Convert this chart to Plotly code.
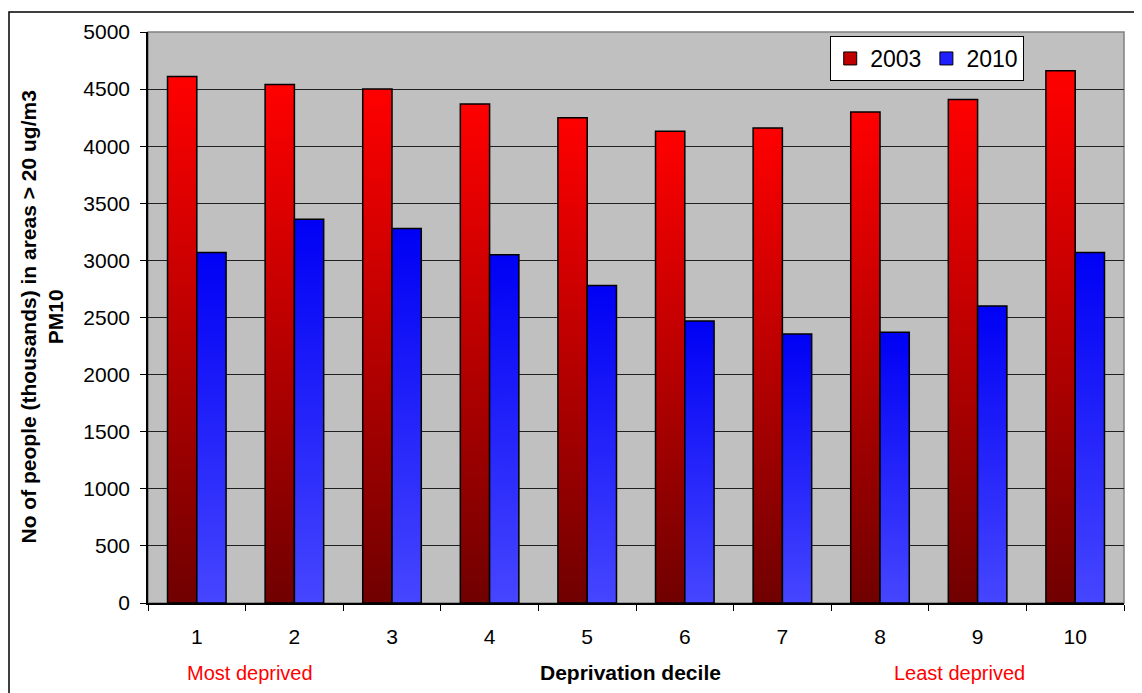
import plotly.graph_objects as go

deciles = [1, 2, 3, 4, 5, 6, 7, 8, 9, 10]
values_2003 = [4610, 4540, 4500, 4370, 4250, 4130, 4160, 4300, 4410, 4660]
values_2010 = [3070, 3360, 3280, 3050, 2780, 2470, 2355, 2370, 2600, 3070]
series_names = ["2003", "2010"]
y_ticks = [0, 500, 1000, 1500, 2000, 2500, 3000, 3500, 4000, 4500, 5000]

BAR_W = 0.3
red_scale = [[0, "#700000"], [1, "#ff0000"]]
blue_scale = [[0, "#4646ff"], [1, "#0000f5"]]

# page body has an 8px margin; figure is sized/placed to compensate
L, T, PW, PH = 140, 21, 976, 574
FIG_W, FIG_H = 1134, 685

fig = go.Figure()

def add_bars(values, offset, scale, group):
    for c, v in zip(deciles, values):
        x0 = c + offset
        x1 = x0 + BAR_W
        fig.add_trace(go.Scatter(
            x=[x0, x0, x1, x1, x0], y=[0, v, v, 0, 0],
            mode="lines", fill="toself",
            fillgradient=dict(type="vertical", colorscale=scale),
            line=dict(color="black", width=1.5),
            legendgroup=group, showlegend=False,
            hoverinfo="text", text=f"{group}: {v}",
        ))

add_bars(values_2003, -BAR_W, red_scale, series_names[0])
add_bars(values_2010, 0.0, blue_scale, series_names[1])

for name, col in zip(series_names, ["#c00000", "#2020ff"]):
    fig.add_trace(go.Scatter(
        x=[None], y=[None], mode="markers", name=name, legendgroup=name,
        marker=dict(symbol="square", size=13, color=col, line=dict(color="black", width=1)),
    ))

ann_y = (PH + T - 665) / PH

fig.update_layout(
    width=FIG_W, height=FIG_H,
    margin=dict(l=L, r=FIG_W - L - PW, t=T, b=FIG_H - T - PH),
    paper_bgcolor="white",
    plot_bgcolor="#c0c0c0",
    font=dict(family="Liberation Sans, Arial, sans-serif", size=20, color="black"),
    showlegend=True,
    legend=dict(
        x=0.699, y=0.993, xanchor="left", yanchor="top",
        orientation="h", bgcolor="white", bordercolor="black", borderwidth=1,
        font=dict(size=23), itemwidth=30,
    ),
    xaxis=dict(
        range=[0.5, 10.5], tickvals=deciles, ticktext=[str(d) for d in deciles],
        ticks="", showgrid=False, zeroline=False,
        showline=True, linecolor="black", linewidth=1.5,
        ticklabelstandoff=14, tickfont=dict(size=21),
        minor=dict(tick0=0.5, dtick=1, ticks="outside", ticklen=6, tickcolor="black", showgrid=False),
        fixedrange=True,
    ),
    yaxis=dict(
        range=[0, 5000], tickvals=y_ticks, ticks="outside", ticklen=6, tickcolor="black",
        showgrid=True, gridcolor="#202020", gridwidth=1, zeroline=False,
        showline=True, linecolor="black", linewidth=1.5,
        ticklabelstandoff=6, tickfont=dict(size=21),
        fixedrange=True,
    ),
    shapes=[
        dict(type="rect", xref="paper", yref="paper", x0=0, x1=1, y0=0, y1=1,
             line=dict(color="#808080", width=1.5), layer="below"),
        dict(type="rect", xref="paper", yref="paper",
             x0=(1 - L) / PW, x1=1.05, y0=-0.3, y1=(PH + T - 1) / PH,
             line=dict(color="black", width=1.5)),
    ],
    annotations=[
        dict(text="<b>No of people (thousands) in areas &gt; 20 ug/m3<br>PM10</b>",
             xref="paper", yref="paper", x=(33 - L) / PW, y=0.5,
             xanchor="center", yanchor="middle", textangle=-90, showarrow=False,
             font=dict(size=21)),
        dict(text="Most deprived", xref="x", yref="paper", x=1.545, y=ann_y,
             xanchor="center", yanchor="middle", showarrow=False,
             font=dict(size=20, color="red")),
        dict(text="<b>Deprivation decile</b>", xref="x", yref="paper", x=5.44, y=ann_y,
             xanchor="center", yanchor="middle", showarrow=False,
             font=dict(size=21)),
        dict(text="Least deprived", xref="x", yref="paper", x=8.81, y=ann_y,
             xanchor="center", yanchor="middle", showarrow=False,
             font=dict(size=20, color="red")),
    ],
)

fig.write_html("out.html")
